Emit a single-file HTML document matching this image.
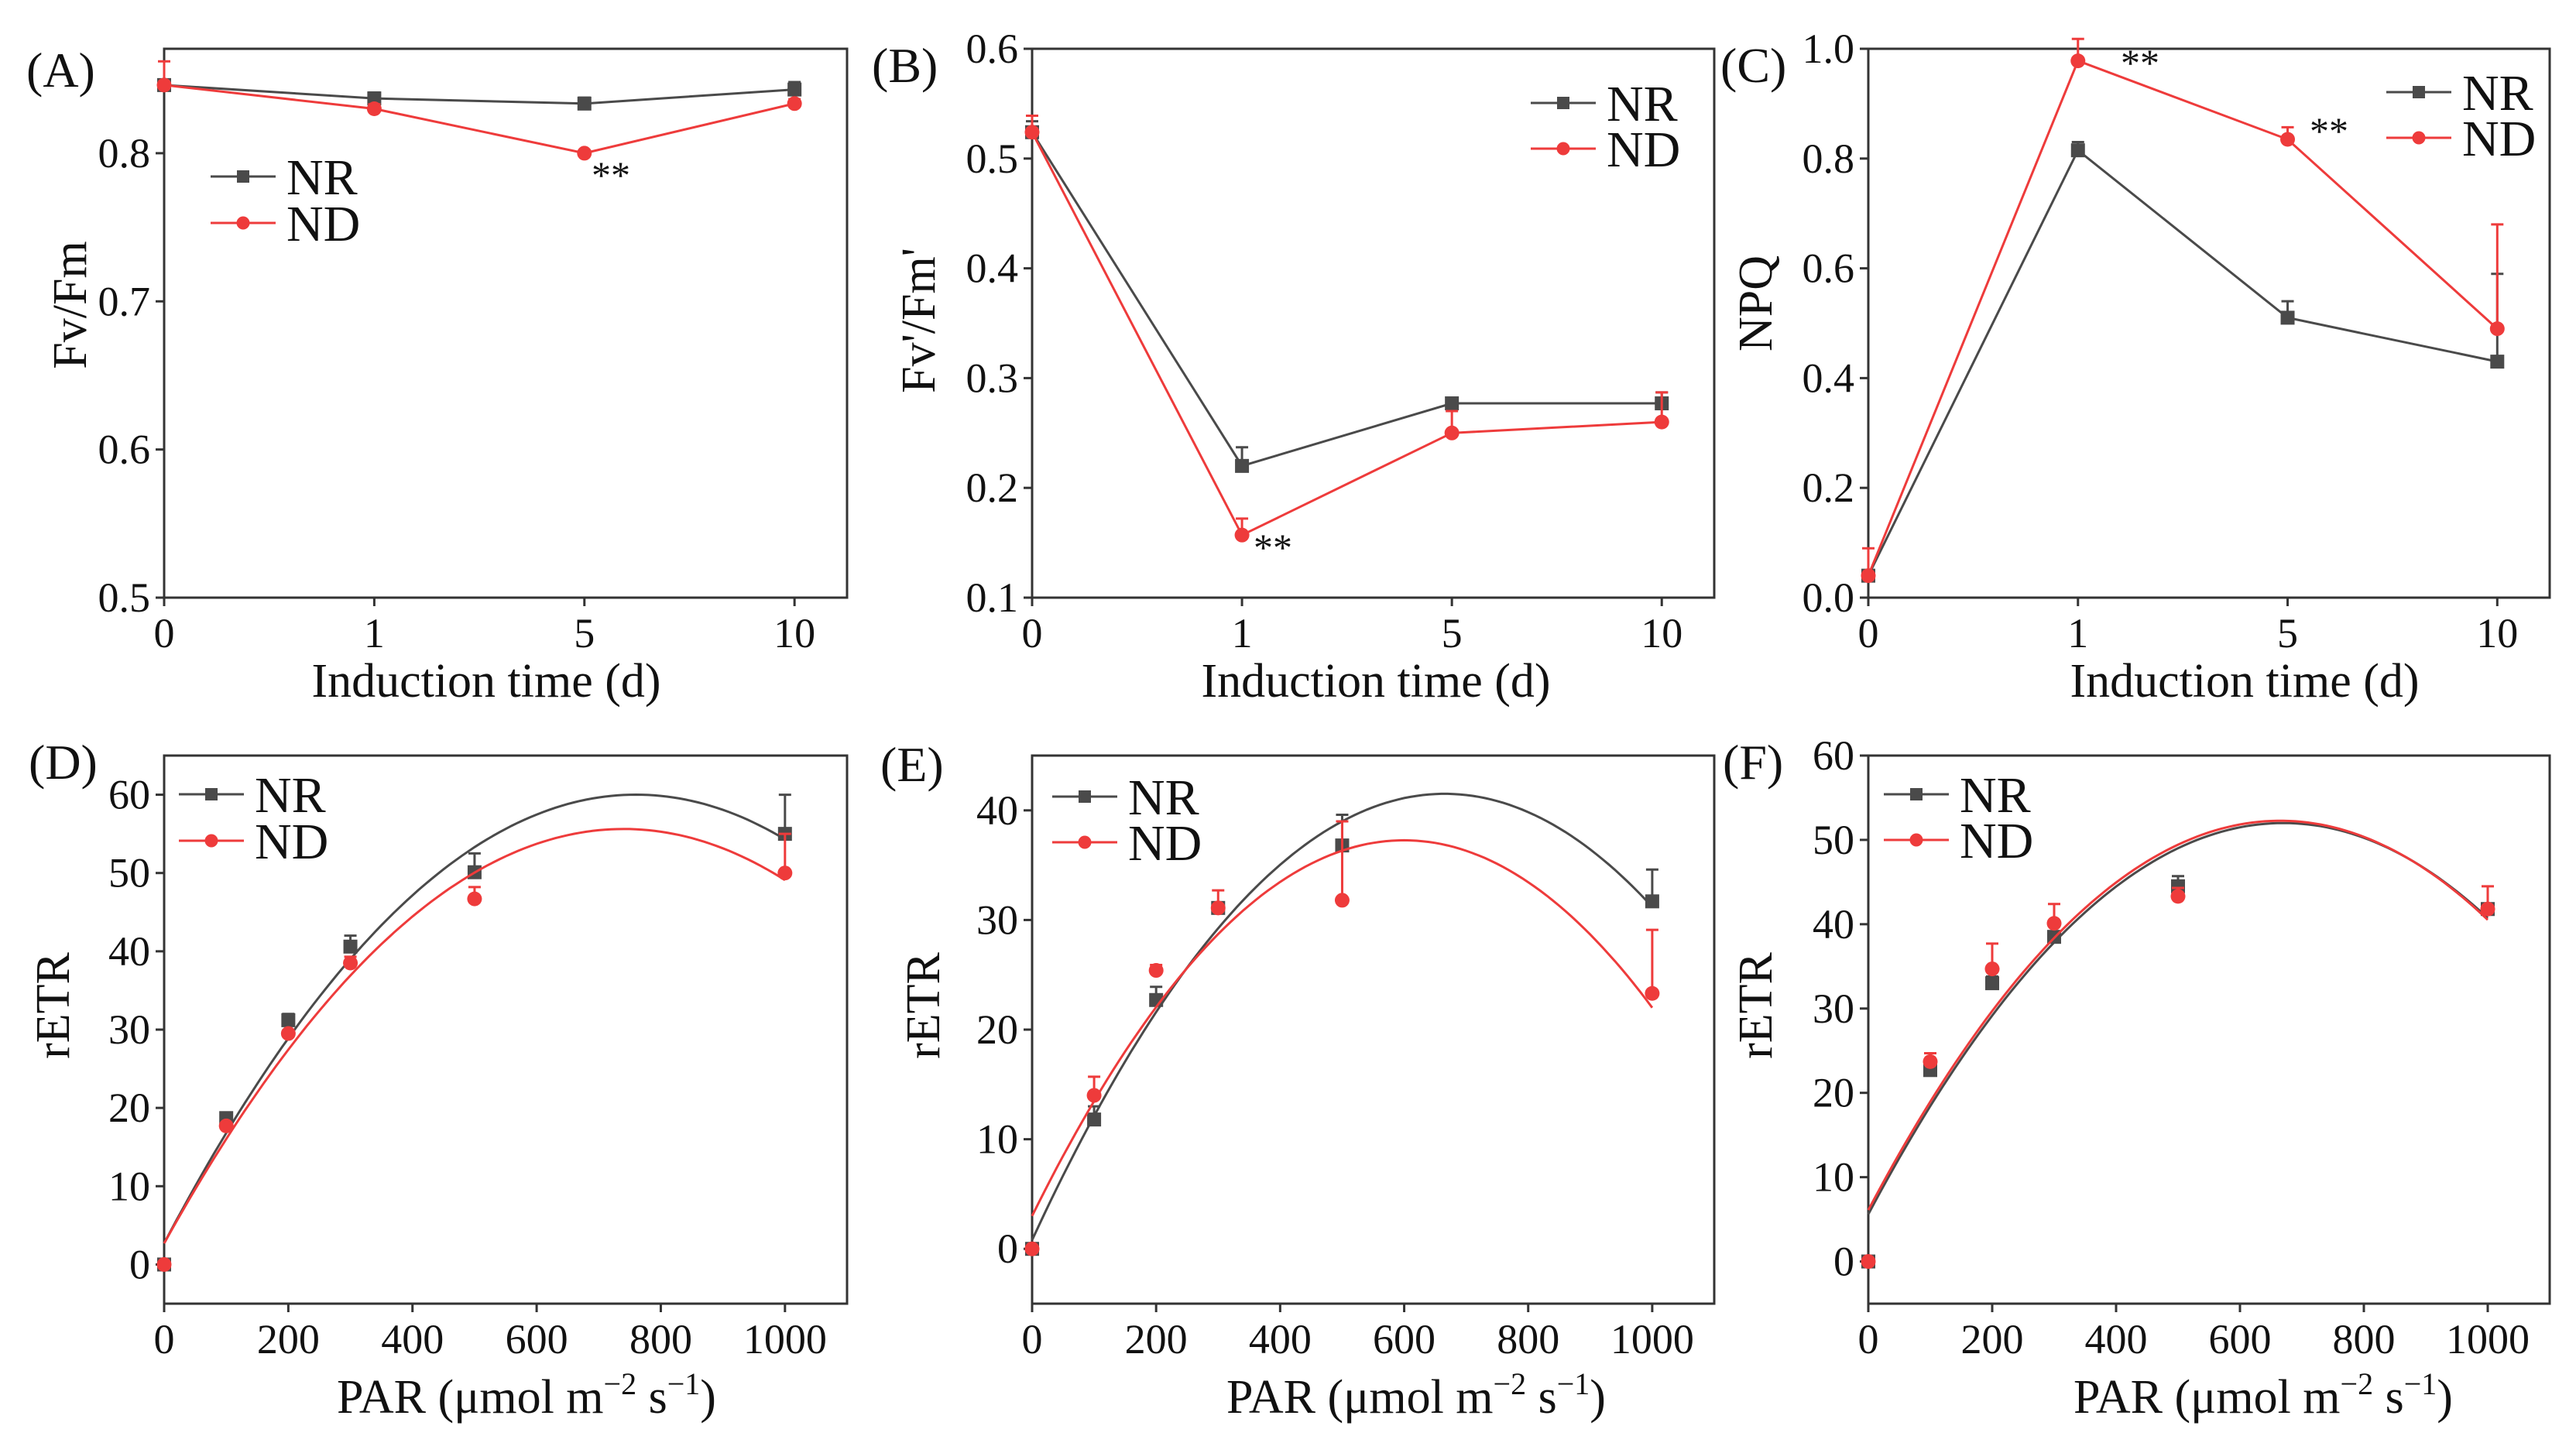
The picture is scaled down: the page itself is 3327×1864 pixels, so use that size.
<!DOCTYPE html>
<html><head><meta charset="utf-8">
<style>
html,body{margin:0;padding:0;background:#fff;}
svg{display:block;font-family:"Liberation Serif","Times New Roman",serif;}
</style></head>
<body>
<svg id="fig" width="3327" height="1864" viewBox="0 0 3327 1864" xmlns="http://www.w3.org/2000/svg"></svg>
<script>
// ---- data ----
const daysCats = ["0","1","5","10"];
const parX = [0,100,200,300,500,1000];
// A Fv/Fm
const aNR = [0.846,0.837,0.8335,0.843];
const aNRerr = [0.003,0.004,0.004,0.005];
const aND = [0.846,0.830,0.800,0.8335];
const aNDerr = [0.016,0.003,0.002,0.003];
// B Fv'/Fm'
const bNR = [0.524,0.220,0.277,0.277];
const bNRerr = [0.01,0.017,0.004,0.01];
const bND = [0.524,0.157,0.250,0.260];
const bNDerr = [0.015,0.015,0.02,0.027];
// C NPQ
const cNR = [0.04,0.815,0.51,0.43];
const cNRerr = [0.005,0.015,0.03,0.16];
const cND = [0.04,0.978,0.835,0.49];
const cNDerr = [0.05,0.04,0.022,0.19];
// D rETR
const dNR = [0,18.7,31.2,40.6,50.1,55];
const dNRerr = [0.3,0.5,0.8,1.4,2.4,5];
const dND = [0,17.7,29.5,38.5,46.7,50];
const dNDerr = [0,0.3,0.4,0.8,1.5,5];
const dNRfit = [2.7,0.1508,-9.92e-5];
const dNDfit = [2.7,0.143,-9.66e-5];
// E rETR
const eNR = [0,11.8,22.7,31.1,36.8,31.7];
const eNRerr = [0,1.2,1.2,0.5,2.8,2.9];
const eND = [0,14,25.4,31.1,31.8,23.3];
const eNDerr = [0,1.7,0.5,1.6,7.2,5.8];
const eNRfit = [0.8,0.1224,-9.2e-5];
const eNDfit = [3,0.1143,-9.53e-5];
// F rETR
const fNR = [0,22.7,33,38.5,44.5,41.8];
const fNRerr = [0,0.5,0.8,0.5,1.2,0.5];
const fND = [0,23.7,34.7,40.1,43.3,41.8];
const fNDerr = [0,1,3,2.3,1,2.7];
const fNRfit = [5.6,0.1385,-1.0336e-4];
const fNDfit = [6.1,0.1389,-1.0447e-4];
// tick labels
const yTicksA = [0.5,0.6,0.7,0.8];
const yTicksB = [0.1,0.2,0.3,0.4,0.5,0.6];
const yTicksC = [0,0.2,0.4,0.6,0.8,1.0];
const yTicksD = [0,10,20,30,40,50,60];
const yTicksE = [0,10,20,30,40];
const yTicksF = [0,10,20,30,40,50,60];
const xTicksPar = [0,200,400,600,800,1000];

const NS="http://www.w3.org/2000/svg";
const svg=document.getElementById('fig');
const GRAY="#4a4a4a", RED="#ee3b3b", AX="#333";
function mk(tag,attrs,parent){const e=document.createElementNS(NS,tag);for(const k in attrs)e.setAttribute(k,attrs[k]);(parent||svg).appendChild(e);return e;}

function panel(p){
  const g=mk('g',{});
  
  
  const sx=v=>p.L+(v-p.x0)/(p.x1-p.x0)*(p.R-p.L);
  const sy=v=>p.B-(v-p.y0)/(p.y1-p.y0)*(p.B-p.T);
  const fr=mk('rect',{x:p.L,y:p.T,width:p.R-p.L,height:p.B-p.T,fill:'none',stroke:AX,'stroke-width':3},g);
  
  
  p.yt.forEach(v=>{
    const y=sy(v);
    mk('line',{x1:p.L-11,x2:p.L,y1:y,y2:y,stroke:AX,'stroke-width':3},g);
    const t=mk('text',{x:p.L-18,y:y+18,'font-size':54,'text-anchor':'end',fill:'#111'},g);
    t.textContent=p.yfmt(v);
    
    
  });
  p.xt.forEach((v,i)=>{
    const x=sx(v);
    mk('line',{x1:x,x2:x,y1:p.B,y2:p.B+11,stroke:AX,'stroke-width':3},g);
    const t=mk('text',{x:x,y:p.B+64,'font-size':54,'text-anchor':'middle',fill:'#111'},g);
    t.textContent=p.xl[i];
    
    
  });
  const xt=mk('text',{x:p.xtx,y:p.xty,'font-size':62,'text-anchor':'middle',fill:'#111'},g);
  
  
  if(p.par){
    const parts=[['PAR (μmol m',0,62],['−2',-24,40],[' s',24,62],['−1',-24,40],[')',24,62]];
    parts.forEach(([s,dy,fs])=>{const ts=mk('tspan',{dy:dy,'font-size':fs},xt);ts.textContent=s;});
  } else xt.textContent='Induction time (d)';
  const yt=mk('text',{x:0,y:0,'font-size':62,'text-anchor':'middle',fill:'#111',transform:`translate(${p.ytx},${p.yty}) rotate(-90)`},g);
  yt.textContent=p.ytitle;
  
  
  const pl=mk('text',{x:p.lx,y:p.ly,'font-size':64,fill:'#111'},g);
  pl.textContent='('+p.id+')';
  
  
  p.series.forEach(s=>{
    const xs=p.xs;
    if(s.fit){
      let d='';
      for(let xv=0;xv<=1000;xv+=10){const yv=s.fit[0]+s.fit[1]*xv+s.fit[2]*xv*xv;d+=(xv?'L':'M')+sx(xv).toFixed(1)+','+sy(yv).toFixed(1);}
      const c=mk('path',{d:d,fill:'none',stroke:s.color,'stroke-width':3},g);
      
      
    } else {
      const pts=s.vals.map((v,i)=>sx(xs[i]).toFixed(1)+','+sy(v).toFixed(1)).join(' ');
      const l=mk('polyline',{points:pts,fill:'none',stroke:s.color,'stroke-width':3},g);
      
      
    }
    s.vals.forEach((v,i)=>{
      const x=sx(xs[i]),y=sy(v),ye=sy(v+s.err[i]);
      if(s.err[i]>0){
        const eb=mk('path',{d:`M${x},${y}L${x},${ye}M${x-8},${ye}L${x+8},${ye}`,stroke:s.color,'stroke-width':3,fill:'none'},g);
        
        
      }
      let m;
      if(s.shape==='sq') m=mk('rect',{x:x-9,y:y-9,width:18,height:18,fill:s.color},g);
      else m=mk('circle',{cx:x,cy:y,r:9.5,fill:s.color},g);
      
      
    });
  });
  [['NR',GRAY,'sq',0],['ND',RED,'ci',1]].forEach(([n,c,sh,k])=>{
    const y=p.legY+k*p.legDy;
    const lg=mk('g',{},g);
    
    
    mk('line',{x1:p.legX,x2:p.legX+84,y1:y,y2:y,stroke:c,'stroke-width':3},lg);
    const cx=p.legX+42;
    if(sh==='sq') mk('rect',{x:cx-8,y:y-8,width:16,height:16,fill:c},lg);
    else mk('circle',{cx:cx,cy:y,r:8.5,fill:c},lg);
    const t=mk('text',{x:p.legX+98,y:y+23,'font-size':66,fill:'#111'},lg);
    t.textContent=n;
  });
  (p.stars||[]).forEach(([x,y])=>{
    const t=mk('text',{x:x,y:y+16,'font-size':50,'text-anchor':'middle',fill:'#111'},g);
    t.textContent='**';
    
    
  });
}
const idx=[0,1,2,3];
const f1=v=>v.toFixed(1), f0=v=>String(v);
const topCfg={T:63,B:772,x0:0,x1:3.25,xt:idx,xl:daysCats,xs:idx,xty:900};
const botCfg={T:976,B:1684,x0:0,x1:1100,xt:xTicksPar,xl:xTicksPar.map(String),xs:parX,par:true,xty:1825};

panel(Object.assign({},topCfg,{id:'A',L:212,R:1094,y0:0.5,y1:0.8705,yt:yTicksA,yfmt:f1,xtx:628,ytx:111,yty:394,ytitle:'Fv/Fm',lx:34,ly:112,
  legX:272,legY:228,legDy:60,stars:[[789,227]],
  series:[{name:'NR',color:GRAY,shape:'sq',vals:aNR,err:aNRerr},{name:'ND',color:RED,shape:'ci',vals:aND,err:aNDerr}]}));
panel(Object.assign({},topCfg,{id:'B',L:1333,R:2214,y0:0.1,y1:0.6,yt:yTicksB,yfmt:f1,xtx:1777,ytx:1207,yty:414,ytitle:"Fv'/Fm'",lx:1126,ly:106,
  legX:1977,legY:133,legDy:59,stars:[[1644,708]],
  series:[{name:'NR',color:GRAY,shape:'sq',vals:bNR,err:bNRerr},{name:'ND',color:RED,shape:'ci',vals:bND,err:bNDerr}]}));
panel(Object.assign({},topCfg,{id:'C',L:2413,R:3293,y0:0,y1:1.0,yt:yTicksC,yfmt:f1,xtx:2899,ytx:2288,yty:392,ytitle:'NPQ',lx:2222,ly:106,
  legX:3082,legY:119,legDy:59,stars:[[2764,82],[3008,170]],
  series:[{name:'NR',color:GRAY,shape:'sq',vals:cNR,err:cNRerr},{name:'ND',color:RED,shape:'ci',vals:cND,err:cNDerr}]}));
panel(Object.assign({},botCfg,{id:'D',L:212,R:1094,y0:-5,y1:65,yt:yTicksD,yfmt:f0,xtx:680,ytx:89,yty:1299,ytitle:'rETR',lx:37,ly:1006,
  legX:231,legY:1026,legDy:60,
  series:[{name:'NR',color:GRAY,shape:'sq',vals:dNR,err:dNRerr,fit:dNRfit},{name:'ND',color:RED,shape:'ci',vals:dND,err:dNDerr,fit:dNDfit}]}));
panel(Object.assign({},botCfg,{id:'E',L:1333,R:2214,y0:-5,y1:45,yt:yTicksE,yfmt:f0,xtx:1829,ytx:1213,yty:1299,ytitle:'rETR',lx:1137,ly:1009,
  legX:1359,legY:1029,legDy:59,
  series:[{name:'NR',color:GRAY,shape:'sq',vals:eNR,err:eNRerr,fit:eNRfit},{name:'ND',color:RED,shape:'ci',vals:eND,err:eNDerr,fit:eNDfit}]}));
panel(Object.assign({},botCfg,{id:'F',L:2413,R:3293,y0:-5,y1:60,yt:yTicksF,yfmt:f0,xtx:2923,ytx:2288,yty:1299,ytitle:'rETR',lx:2225,ly:1006,
  legX:2433,legY:1026,legDy:59,
  series:[{name:'NR',color:GRAY,shape:'sq',vals:fNR,err:fNRerr,fit:fNRfit},{name:'ND',color:RED,shape:'ci',vals:fND,err:fNDerr,fit:fNDfit}]}));
</script>
</body></html>
